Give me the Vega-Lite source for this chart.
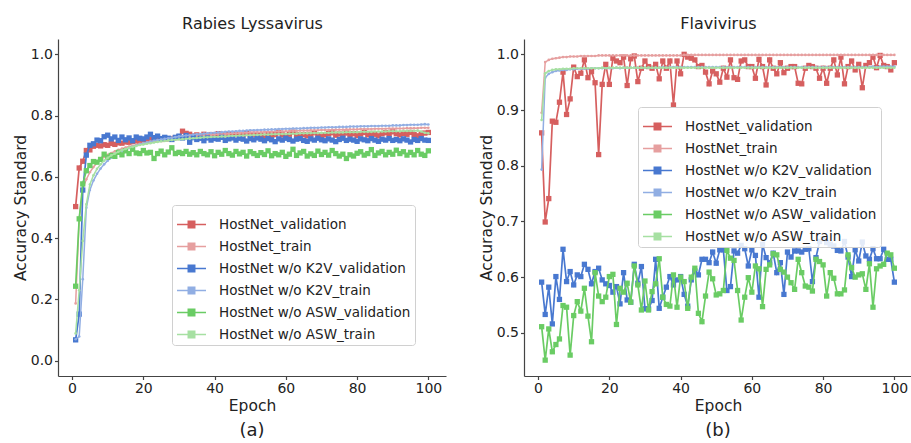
{
"$schema":"https://vega.github.io/schema/vega-lite/v6.json",
"padding":{"left":13,"top":15,"right":0,"bottom":0},
"spacing":33,
"datasets":{
"av":[{"e":1,"v":0.503},{"e":2,"v":0.629},{"e":3,"v":0.651},{"e":4,"v":0.686},{"e":5,"v":0.688},{"e":6,"v":0.700},{"e":7,"v":0.703},{"e":8,"v":0.701},{"e":9,"v":0.705},{"e":10,"v":0.703},
{"e":11,"v":0.709},{"e":12,"v":0.706},{"e":13,"v":0.711},{"e":14,"v":0.710},{"e":15,"v":0.714},{"e":16,"v":0.713},{"e":17,"v":0.716},{"e":18,"v":0.717},{"e":19,"v":0.715},{"e":20,"v":0.720},
{"e":21,"v":0.718},{"e":22,"v":0.722},{"e":23,"v":0.720},{"e":24,"v":0.724},{"e":25,"v":0.722},{"e":26,"v":0.726},{"e":27,"v":0.724},{"e":28,"v":0.725},{"e":29,"v":0.728},{"e":30,"v":0.731},
{"e":31,"v":0.749},{"e":32,"v":0.742},{"e":33,"v":0.739},{"e":34,"v":0.734},{"e":35,"v":0.737},{"e":36,"v":0.733},{"e":37,"v":0.739},{"e":38,"v":0.734},{"e":39,"v":0.738},{"e":40,"v":0.736},
{"e":41,"v":0.741},{"e":42,"v":0.734},{"e":43,"v":0.737},{"e":44,"v":0.740},{"e":45,"v":0.735},{"e":46,"v":0.738},{"e":47,"v":0.733},{"e":48,"v":0.739},{"e":49,"v":0.742},{"e":50,"v":0.736},
{"e":51,"v":0.739},{"e":52,"v":0.734},{"e":53,"v":0.737},{"e":54,"v":0.732},{"e":55,"v":0.740},{"e":56,"v":0.736},{"e":57,"v":0.738},{"e":58,"v":0.744},{"e":59,"v":0.737},{"e":60,"v":0.733},
{"e":61,"v":0.739},{"e":62,"v":0.746},{"e":63,"v":0.737},{"e":64,"v":0.732},{"e":65,"v":0.738},{"e":66,"v":0.734},{"e":67,"v":0.739},{"e":68,"v":0.744},{"e":69,"v":0.735},{"e":70,"v":0.731},
{"e":71,"v":0.737},{"e":72,"v":0.741},{"e":73,"v":0.744},{"e":74,"v":0.736},{"e":75,"v":0.740},{"e":76,"v":0.737},{"e":77,"v":0.743},{"e":78,"v":0.738},{"e":79,"v":0.741},{"e":80,"v":0.735},
{"e":81,"v":0.740},{"e":82,"v":0.745},{"e":83,"v":0.737},{"e":84,"v":0.742},{"e":85,"v":0.739},{"e":86,"v":0.734},{"e":87,"v":0.741},{"e":88,"v":0.744},{"e":89,"v":0.738},{"e":90,"v":0.747},
{"e":91,"v":0.741},{"e":92,"v":0.737},{"e":93,"v":0.742},{"e":94,"v":0.739},{"e":95,"v":0.745},{"e":96,"v":0.738},{"e":97,"v":0.734},{"e":98,"v":0.740},{"e":99,"v":0.743},{"e":100,"v":0.745}],
"at":[{"e":1,"v":0.187},{"e":2,"v":0.464},{"e":3,"v":0.560},{"e":4,"v":0.592},{"e":5,"v":0.615},{"e":6,"v":0.632},{"e":7,"v":0.645},{"e":8,"v":0.656},{"e":9,"v":0.665},{"e":10,"v":0.672},
{"e":11,"v":0.678},{"e":12,"v":0.683},{"e":13,"v":0.688},{"e":14,"v":0.692},{"e":15,"v":0.696},{"e":16,"v":0.699},{"e":17,"v":0.702},{"e":18,"v":0.705},{"e":19,"v":0.708},{"e":20,"v":0.710},
{"e":21,"v":0.712},{"e":22,"v":0.714},{"e":23,"v":0.716},{"e":24,"v":0.718},{"e":25,"v":0.720},{"e":26,"v":0.721},{"e":27,"v":0.723},{"e":28,"v":0.724},{"e":29,"v":0.726},{"e":30,"v":0.727},
{"e":31,"v":0.728},{"e":32,"v":0.729},{"e":33,"v":0.731},{"e":34,"v":0.732},{"e":35,"v":0.733},{"e":36,"v":0.734},{"e":37,"v":0.735},{"e":38,"v":0.736},{"e":39,"v":0.737},{"e":40,"v":0.738},
{"e":41,"v":0.739},{"e":42,"v":0.739},{"e":43,"v":0.740},{"e":44,"v":0.741},{"e":45,"v":0.742},{"e":46,"v":0.742},{"e":47,"v":0.743},{"e":48,"v":0.744},{"e":49,"v":0.744},{"e":50,"v":0.745},
{"e":51,"v":0.745},{"e":52,"v":0.746},{"e":53,"v":0.746},{"e":54,"v":0.747},{"e":55,"v":0.747},{"e":56,"v":0.748},{"e":57,"v":0.748},{"e":58,"v":0.748},{"e":59,"v":0.749},{"e":60,"v":0.749},
{"e":61,"v":0.750},{"e":62,"v":0.750},{"e":63,"v":0.750},{"e":64,"v":0.751},{"e":65,"v":0.751},{"e":66,"v":0.751},{"e":67,"v":0.752},{"e":68,"v":0.752},{"e":69,"v":0.752},{"e":70,"v":0.753},
{"e":71,"v":0.753},{"e":72,"v":0.753},{"e":73,"v":0.754},{"e":74,"v":0.754},{"e":75,"v":0.754},{"e":76,"v":0.754},{"e":77,"v":0.755},{"e":78,"v":0.755},{"e":79,"v":0.755},{"e":80,"v":0.755},
{"e":81,"v":0.756},{"e":82,"v":0.756},{"e":83,"v":0.756},{"e":84,"v":0.756},{"e":85,"v":0.757},{"e":86,"v":0.757},{"e":87,"v":0.757},{"e":88,"v":0.757},{"e":89,"v":0.758},{"e":90,"v":0.758},
{"e":91,"v":0.758},{"e":92,"v":0.758},{"e":93,"v":0.758},{"e":94,"v":0.759},{"e":95,"v":0.759},{"e":96,"v":0.759},{"e":97,"v":0.759},{"e":98,"v":0.760},{"e":99,"v":0.760},{"e":100,"v":0.760}],
"akv":[{"e":1,"v":0.068},{"e":2,"v":0.152},{"e":3,"v":0.557},{"e":4,"v":0.671},{"e":5,"v":0.703},{"e":6,"v":0.708},{"e":7,"v":0.720},{"e":8,"v":0.718},{"e":9,"v":0.731},{"e":10,"v":0.736},
{"e":11,"v":0.724},{"e":12,"v":0.730},{"e":13,"v":0.719},{"e":14,"v":0.730},{"e":15,"v":0.721},{"e":16,"v":0.727},{"e":17,"v":0.718},{"e":18,"v":0.730},{"e":19,"v":0.726},{"e":20,"v":0.724},
{"e":21,"v":0.730},{"e":22,"v":0.739},{"e":23,"v":0.728},{"e":24,"v":0.733},{"e":25,"v":0.725},{"e":26,"v":0.729},{"e":27,"v":0.726},{"e":28,"v":0.722},{"e":29,"v":0.729},{"e":30,"v":0.733},
{"e":31,"v":0.727},{"e":32,"v":0.735},{"e":33,"v":0.713},{"e":34,"v":0.728},{"e":35,"v":0.722},{"e":36,"v":0.726},{"e":37,"v":0.718},{"e":38,"v":0.727},{"e":39,"v":0.720},{"e":40,"v":0.725},
{"e":41,"v":0.723},{"e":42,"v":0.729},{"e":43,"v":0.719},{"e":44,"v":0.724},{"e":45,"v":0.727},{"e":46,"v":0.720},{"e":47,"v":0.726},{"e":48,"v":0.723},{"e":49,"v":0.717},{"e":50,"v":0.725},
{"e":51,"v":0.721},{"e":52,"v":0.727},{"e":53,"v":0.723},{"e":54,"v":0.718},{"e":55,"v":0.725},{"e":56,"v":0.721},{"e":57,"v":0.715},{"e":58,"v":0.724},{"e":59,"v":0.720},{"e":60,"v":0.726},
{"e":61,"v":0.722},{"e":62,"v":0.717},{"e":63,"v":0.723},{"e":64,"v":0.725},{"e":65,"v":0.719},{"e":66,"v":0.716},{"e":67,"v":0.724},{"e":68,"v":0.720},{"e":69,"v":0.726},{"e":70,"v":0.721},
{"e":71,"v":0.718},{"e":72,"v":0.724},{"e":73,"v":0.720},{"e":74,"v":0.715},{"e":75,"v":0.722},{"e":76,"v":0.726},{"e":77,"v":0.719},{"e":78,"v":0.723},{"e":79,"v":0.720},{"e":80,"v":0.716},
{"e":81,"v":0.724},{"e":82,"v":0.721},{"e":83,"v":0.718},{"e":84,"v":0.725},{"e":85,"v":0.720},{"e":86,"v":0.716},{"e":87,"v":0.723},{"e":88,"v":0.720},{"e":89,"v":0.725},{"e":90,"v":0.719},
{"e":91,"v":0.722},{"e":92,"v":0.718},{"e":93,"v":0.724},{"e":94,"v":0.720},{"e":95,"v":0.714},{"e":96,"v":0.722},{"e":97,"v":0.719},{"e":98,"v":0.725},{"e":99,"v":0.720},{"e":100,"v":0.719}],
"akt":[{"e":1,"v":0.070},{"e":2,"v":0.079},{"e":3,"v":0.266},{"e":4,"v":0.499},{"e":5,"v":0.557},{"e":6,"v":0.588},{"e":7,"v":0.610},{"e":8,"v":0.627},{"e":9,"v":0.641},{"e":10,"v":0.653},
{"e":11,"v":0.663},{"e":12,"v":0.671},{"e":13,"v":0.678},{"e":14,"v":0.684},{"e":15,"v":0.689},{"e":16,"v":0.694},{"e":17,"v":0.698},{"e":18,"v":0.702},{"e":19,"v":0.706},{"e":20,"v":0.709},
{"e":21,"v":0.712},{"e":22,"v":0.715},{"e":23,"v":0.718},{"e":24,"v":0.720},{"e":25,"v":0.722},{"e":26,"v":0.724},{"e":27,"v":0.726},{"e":28,"v":0.728},{"e":29,"v":0.730},{"e":30,"v":0.732},
{"e":31,"v":0.733},{"e":32,"v":0.735},{"e":33,"v":0.736},{"e":34,"v":0.738},{"e":35,"v":0.739},{"e":36,"v":0.740},{"e":37,"v":0.741},{"e":38,"v":0.742},{"e":39,"v":0.743},{"e":40,"v":0.744},
{"e":41,"v":0.745},{"e":42,"v":0.746},{"e":43,"v":0.747},{"e":44,"v":0.748},{"e":45,"v":0.748},{"e":46,"v":0.749},{"e":47,"v":0.750},{"e":48,"v":0.750},{"e":49,"v":0.751},{"e":50,"v":0.752},
{"e":51,"v":0.752},{"e":52,"v":0.753},{"e":53,"v":0.753},{"e":54,"v":0.754},{"e":55,"v":0.754},{"e":56,"v":0.755},{"e":57,"v":0.755},{"e":58,"v":0.756},{"e":59,"v":0.756},{"e":60,"v":0.757},
{"e":61,"v":0.757},{"e":62,"v":0.758},{"e":63,"v":0.758},{"e":64,"v":0.758},{"e":65,"v":0.759},{"e":66,"v":0.759},{"e":67,"v":0.760},{"e":68,"v":0.760},{"e":69,"v":0.760},{"e":70,"v":0.761},
{"e":71,"v":0.761},{"e":72,"v":0.762},{"e":73,"v":0.762},{"e":74,"v":0.762},{"e":75,"v":0.763},{"e":76,"v":0.763},{"e":77,"v":0.763},{"e":78,"v":0.764},{"e":79,"v":0.764},{"e":80,"v":0.764},
{"e":81,"v":0.765},{"e":82,"v":0.765},{"e":83,"v":0.765},{"e":84,"v":0.766},{"e":85,"v":0.766},{"e":86,"v":0.766},{"e":87,"v":0.767},{"e":88,"v":0.767},{"e":89,"v":0.767},{"e":90,"v":0.768},
{"e":91,"v":0.768},{"e":92,"v":0.768},{"e":93,"v":0.769},{"e":94,"v":0.769},{"e":95,"v":0.770},{"e":96,"v":0.770},{"e":97,"v":0.770},{"e":98,"v":0.771},{"e":99,"v":0.772},{"e":100,"v":0.771}],
"aav":[{"e":1,"v":0.243},{"e":2,"v":0.463},{"e":3,"v":0.577},{"e":4,"v":0.620},{"e":5,"v":0.637},{"e":6,"v":0.650},{"e":7,"v":0.648},{"e":8,"v":0.657},{"e":9,"v":0.674},{"e":10,"v":0.664},
{"e":11,"v":0.670},{"e":12,"v":0.667},{"e":13,"v":0.680},{"e":14,"v":0.672},{"e":15,"v":0.685},{"e":16,"v":0.676},{"e":17,"v":0.690},{"e":18,"v":0.678},{"e":19,"v":0.676},{"e":20,"v":0.686},
{"e":21,"v":0.678},{"e":22,"v":0.680},{"e":23,"v":0.660},{"e":24,"v":0.676},{"e":25,"v":0.684},{"e":26,"v":0.672},{"e":27,"v":0.681},{"e":28,"v":0.695},{"e":29,"v":0.676},{"e":30,"v":0.680},
{"e":31,"v":0.676},{"e":32,"v":0.683},{"e":33,"v":0.674},{"e":34,"v":0.679},{"e":35,"v":0.672},{"e":36,"v":0.683},{"e":37,"v":0.676},{"e":38,"v":0.672},{"e":39,"v":0.682},{"e":40,"v":0.669},
{"e":41,"v":0.680},{"e":42,"v":0.674},{"e":43,"v":0.686},{"e":44,"v":0.676},{"e":45,"v":0.671},{"e":46,"v":0.683},{"e":47,"v":0.675},{"e":48,"v":0.680},{"e":49,"v":0.668},{"e":50,"v":0.682},
{"e":51,"v":0.676},{"e":52,"v":0.670},{"e":53,"v":0.679},{"e":54,"v":0.673},{"e":55,"v":0.685},{"e":56,"v":0.669},{"e":57,"v":0.676},{"e":58,"v":0.672},{"e":59,"v":0.680},{"e":60,"v":0.667},
{"e":61,"v":0.674},{"e":62,"v":0.690},{"e":63,"v":0.670},{"e":64,"v":0.678},{"e":65,"v":0.683},{"e":66,"v":0.668},{"e":67,"v":0.675},{"e":68,"v":0.670},{"e":69,"v":0.684},{"e":70,"v":0.673},
{"e":71,"v":0.680},{"e":72,"v":0.671},{"e":73,"v":0.686},{"e":74,"v":0.676},{"e":75,"v":0.668},{"e":76,"v":0.674},{"e":77,"v":0.660},{"e":78,"v":0.672},{"e":79,"v":0.668},{"e":80,"v":0.677},
{"e":81,"v":0.682},{"e":82,"v":0.671},{"e":83,"v":0.676},{"e":84,"v":0.689},{"e":85,"v":0.670},{"e":86,"v":0.678},{"e":87,"v":0.683},{"e":88,"v":0.672},{"e":89,"v":0.680},{"e":90,"v":0.674},
{"e":91,"v":0.687},{"e":92,"v":0.676},{"e":93,"v":0.682},{"e":94,"v":0.671},{"e":95,"v":0.680},{"e":96,"v":0.672},{"e":97,"v":0.686},{"e":98,"v":0.674},{"e":99,"v":0.670},{"e":100,"v":0.685}],
"aat":[{"e":1,"v":0.089},{"e":2,"v":0.230},{"e":3,"v":0.391},{"e":4,"v":0.510},{"e":5,"v":0.575},{"e":6,"v":0.605},{"e":7,"v":0.626},{"e":8,"v":0.641},{"e":9,"v":0.653},{"e":10,"v":0.662},
{"e":11,"v":0.670},{"e":12,"v":0.676},{"e":13,"v":0.682},{"e":14,"v":0.687},{"e":15,"v":0.691},{"e":16,"v":0.695},{"e":17,"v":0.698},{"e":18,"v":0.701},{"e":19,"v":0.704},{"e":20,"v":0.706},
{"e":21,"v":0.708},{"e":22,"v":0.710},{"e":23,"v":0.712},{"e":24,"v":0.714},{"e":25,"v":0.716},{"e":26,"v":0.717},{"e":27,"v":0.719},{"e":28,"v":0.720},{"e":29,"v":0.721},{"e":30,"v":0.722},
{"e":31,"v":0.723},{"e":32,"v":0.724},{"e":33,"v":0.725},{"e":34,"v":0.726},{"e":35,"v":0.727},{"e":36,"v":0.728},{"e":37,"v":0.729},{"e":38,"v":0.729},{"e":39,"v":0.730},{"e":40,"v":0.731},
{"e":41,"v":0.731},{"e":42,"v":0.732},{"e":43,"v":0.732},{"e":44,"v":0.733},{"e":45,"v":0.734},{"e":46,"v":0.734},{"e":47,"v":0.735},{"e":48,"v":0.735},{"e":49,"v":0.736},{"e":50,"v":0.736},
{"e":51,"v":0.737},{"e":52,"v":0.737},{"e":53,"v":0.738},{"e":54,"v":0.738},{"e":55,"v":0.738},{"e":56,"v":0.739},{"e":57,"v":0.739},{"e":58,"v":0.740},{"e":59,"v":0.740},{"e":60,"v":0.740},
{"e":61,"v":0.741},{"e":62,"v":0.741},{"e":63,"v":0.741},{"e":64,"v":0.742},{"e":65,"v":0.742},{"e":66,"v":0.742},{"e":67,"v":0.743},{"e":68,"v":0.743},{"e":69,"v":0.743},{"e":70,"v":0.744},
{"e":71,"v":0.744},{"e":72,"v":0.744},{"e":73,"v":0.745},{"e":74,"v":0.745},{"e":75,"v":0.745},{"e":76,"v":0.745},{"e":77,"v":0.746},{"e":78,"v":0.746},{"e":79,"v":0.746},{"e":80,"v":0.746},
{"e":81,"v":0.747},{"e":82,"v":0.747},{"e":83,"v":0.747},{"e":84,"v":0.747},{"e":85,"v":0.748},{"e":86,"v":0.748},{"e":87,"v":0.748},{"e":88,"v":0.748},{"e":89,"v":0.749},{"e":90,"v":0.749},
{"e":91,"v":0.749},{"e":92,"v":0.749},{"e":93,"v":0.750},{"e":94,"v":0.750},{"e":95,"v":0.750},{"e":96,"v":0.750},{"e":97,"v":0.751},{"e":98,"v":0.748},{"e":99,"v":0.744},{"e":100,"v":0.742}],
"bv":[{"e":1,"v":0.859},{"e":2,"v":0.699},{"e":3,"v":0.741},{"e":4,"v":0.880},{"e":5,"v":0.878},{"e":6,"v":0.914},{"e":7,"v":0.968},{"e":8,"v":0.892},{"e":9,"v":0.920},{"e":10,"v":0.977},
{"e":11,"v":0.960},{"e":12,"v":0.966},{"e":13,"v":0.990},{"e":14,"v":0.958},{"e":15,"v":0.969},{"e":16,"v":0.949},{"e":17,"v":0.820},{"e":18,"v":0.946},{"e":19,"v":0.982},{"e":20,"v":0.946},
{"e":21,"v":0.993},{"e":22,"v":0.988},{"e":23,"v":0.985},{"e":24,"v":0.995},{"e":25,"v":0.944},{"e":26,"v":0.992},{"e":27,"v":0.997},{"e":28,"v":0.951},{"e":29,"v":0.975},{"e":30,"v":0.988},
{"e":31,"v":0.978},{"e":32,"v":0.975},{"e":33,"v":0.982},{"e":34,"v":0.956},{"e":35,"v":0.988},{"e":36,"v":0.975},{"e":37,"v":0.988},{"e":38,"v":0.909},{"e":39,"v":0.988},{"e":40,"v":0.965},
{"e":41,"v":1.000},{"e":42,"v":0.995},{"e":43,"v":0.993},{"e":44,"v":0.990},{"e":45,"v":0.978},{"e":46,"v":0.980},{"e":47,"v":0.968},{"e":48,"v":0.947},{"e":49,"v":0.970},{"e":50,"v":0.965},
{"e":51,"v":0.950},{"e":52,"v":0.975},{"e":53,"v":0.959},{"e":54,"v":0.990},{"e":55,"v":0.958},{"e":56,"v":0.955},{"e":57,"v":0.988},{"e":58,"v":0.990},{"e":59,"v":0.978},{"e":60,"v":0.978},
{"e":61,"v":0.957},{"e":62,"v":0.991},{"e":63,"v":0.978},{"e":64,"v":0.945},{"e":65,"v":0.990},{"e":66,"v":0.975},{"e":67,"v":0.965},{"e":68,"v":0.985},{"e":69,"v":0.967},{"e":70,"v":0.975},
{"e":71,"v":0.978},{"e":72,"v":0.978},{"e":73,"v":0.948},{"e":74,"v":0.947},{"e":75,"v":0.975},{"e":76,"v":0.980},{"e":77,"v":0.978},{"e":78,"v":0.975},{"e":79,"v":0.957},{"e":80,"v":0.975},
{"e":81,"v":0.948},{"e":82,"v":0.975},{"e":83,"v":0.990},{"e":84,"v":0.963},{"e":85,"v":0.995},{"e":86,"v":0.947},{"e":87,"v":0.978},{"e":88,"v":0.988},{"e":89,"v":0.972},{"e":90,"v":0.982},
{"e":91,"v":0.940},{"e":92,"v":0.980},{"e":93,"v":0.985},{"e":94,"v":0.995},{"e":95,"v":0.976},{"e":96,"v":0.998},{"e":97,"v":0.980},{"e":98,"v":0.978},{"e":99,"v":0.972},{"e":100,"v":0.985}],
"bt":[{"e":1,"v":0.895},{"e":2,"v":0.986},{"e":3,"v":0.990},{"e":4,"v":0.992},{"e":5,"v":0.993},{"e":6,"v":0.994},{"e":7,"v":0.995},{"e":8,"v":0.995},{"e":9,"v":0.996},{"e":10,"v":0.996},
{"e":11,"v":0.996},{"e":12,"v":0.997},{"e":13,"v":0.997},{"e":14,"v":0.997},{"e":15,"v":0.997},{"e":16,"v":0.997},{"e":17,"v":0.998},{"e":18,"v":0.998},{"e":19,"v":0.998},{"e":20,"v":0.998},
{"e":21,"v":0.998},{"e":22,"v":0.998},{"e":23,"v":0.998},{"e":24,"v":0.998},{"e":25,"v":0.998},{"e":26,"v":0.998},{"e":27,"v":0.998},{"e":28,"v":0.998},{"e":29,"v":0.998},{"e":30,"v":0.998},
{"e":31,"v":0.998},{"e":32,"v":0.998},{"e":33,"v":0.998},{"e":34,"v":0.998},{"e":35,"v":0.998},{"e":36,"v":0.998},{"e":37,"v":0.998},{"e":38,"v":0.998},{"e":39,"v":0.998},{"e":40,"v":0.998},
{"e":41,"v":0.999},{"e":42,"v":0.999},{"e":43,"v":0.999},{"e":44,"v":0.999},{"e":45,"v":0.999},{"e":46,"v":0.999},{"e":47,"v":0.999},{"e":48,"v":0.999},{"e":49,"v":0.999},{"e":50,"v":0.999},
{"e":51,"v":0.999},{"e":52,"v":0.999},{"e":53,"v":0.999},{"e":54,"v":0.999},{"e":55,"v":0.999},{"e":56,"v":0.999},{"e":57,"v":0.999},{"e":58,"v":0.999},{"e":59,"v":0.999},{"e":60,"v":0.999},
{"e":61,"v":0.999},{"e":62,"v":0.999},{"e":63,"v":0.999},{"e":64,"v":0.999},{"e":65,"v":0.999},{"e":66,"v":0.999},{"e":67,"v":0.999},{"e":68,"v":0.999},{"e":69,"v":0.999},{"e":70,"v":0.999},
{"e":71,"v":0.999},{"e":72,"v":0.999},{"e":73,"v":0.999},{"e":74,"v":0.999},{"e":75,"v":0.999},{"e":76,"v":0.999},{"e":77,"v":0.999},{"e":78,"v":0.999},{"e":79,"v":0.999},{"e":80,"v":0.999},
{"e":81,"v":0.999},{"e":82,"v":0.999},{"e":83,"v":0.999},{"e":84,"v":0.999},{"e":85,"v":0.999},{"e":86,"v":0.999},{"e":87,"v":0.999},{"e":88,"v":0.999},{"e":89,"v":0.999},{"e":90,"v":0.999},
{"e":91,"v":0.999},{"e":92,"v":0.999},{"e":93,"v":0.999},{"e":94,"v":0.999},{"e":95,"v":0.999},{"e":96,"v":0.999},{"e":97,"v":0.999},{"e":98,"v":0.999},{"e":99,"v":0.999},{"e":100,"v":0.999}],
"bkv":[{"e":1,"v":0.591},{"e":2,"v":0.533},{"e":3,"v":0.582},{"e":4,"v":0.516},{"e":5,"v":0.601},{"e":6,"v":0.560},{"e":7,"v":0.650},{"e":8,"v":0.592},{"e":9,"v":0.610},{"e":10,"v":0.586},
{"e":11,"v":0.604},{"e":12,"v":0.601},{"e":13,"v":0.623},{"e":14,"v":0.614},{"e":15,"v":0.588},{"e":16,"v":0.610},{"e":17,"v":0.616},{"e":18,"v":0.595},{"e":19,"v":0.588},{"e":20,"v":0.585},
{"e":21,"v":0.573},{"e":22,"v":0.583},{"e":23,"v":0.552},{"e":24,"v":0.608},{"e":25,"v":0.559},{"e":26,"v":0.555},{"e":27,"v":0.623},{"e":28,"v":0.589},{"e":29,"v":0.619},{"e":30,"v":0.543},
{"e":31,"v":0.543},{"e":32,"v":0.558},{"e":33,"v":0.632},{"e":34,"v":0.544},{"e":35,"v":0.564},{"e":36,"v":0.582},{"e":37,"v":0.601},{"e":38,"v":0.586},{"e":39,"v":0.595},{"e":40,"v":0.601},
{"e":41,"v":0.569},{"e":42,"v":0.548},{"e":43,"v":0.595},{"e":44,"v":0.611},{"e":45,"v":0.604},{"e":46,"v":0.632},{"e":47,"v":0.632},{"e":48,"v":0.626},{"e":49,"v":0.645},{"e":50,"v":0.625},
{"e":51,"v":0.649},{"e":52,"v":0.649},{"e":53,"v":0.576},{"e":54,"v":0.583},{"e":55,"v":0.647},{"e":56,"v":0.643},{"e":57,"v":0.657},{"e":58,"v":0.651},{"e":59,"v":0.620},{"e":60,"v":0.649},
{"e":61,"v":0.639},{"e":62,"v":0.564},{"e":63,"v":0.659},{"e":64,"v":0.635},{"e":65,"v":0.626},{"e":66,"v":0.643},{"e":67,"v":0.608},{"e":68,"v":0.626},{"e":69,"v":0.569},{"e":70,"v":0.645},
{"e":71,"v":0.636},{"e":72,"v":0.647},{"e":73,"v":0.647},{"e":74,"v":0.645},{"e":75,"v":0.650},{"e":76,"v":0.651},{"e":77,"v":0.592},{"e":78,"v":0.635},{"e":79,"v":0.664},{"e":80,"v":0.669},
{"e":81,"v":0.662},{"e":82,"v":0.659},{"e":83,"v":0.656},{"e":84,"v":0.648},{"e":85,"v":0.647},{"e":86,"v":0.664},{"e":87,"v":0.636},{"e":88,"v":0.601},{"e":89,"v":0.649},{"e":90,"v":0.629},
{"e":91,"v":0.663},{"e":92,"v":0.638},{"e":93,"v":0.632},{"e":94,"v":0.651},{"e":95,"v":0.633},{"e":96,"v":0.633},{"e":97,"v":0.650},{"e":98,"v":0.632},{"e":99,"v":0.632},{"e":100,"v":0.591}],
"bkt":[{"e":1,"v":0.793},{"e":2,"v":0.958},{"e":3,"v":0.965},{"e":4,"v":0.968},{"e":5,"v":0.970},{"e":6,"v":0.971},{"e":7,"v":0.972},{"e":8,"v":0.972},{"e":9,"v":0.973},{"e":10,"v":0.973},
{"e":11,"v":0.974},{"e":12,"v":0.974},{"e":13,"v":0.974},{"e":14,"v":0.974},{"e":15,"v":0.975},{"e":16,"v":0.975},{"e":17,"v":0.975},{"e":18,"v":0.975},{"e":19,"v":0.975},{"e":20,"v":0.975},
{"e":21,"v":0.975},{"e":22,"v":0.976},{"e":23,"v":0.975},{"e":24,"v":0.976},{"e":25,"v":0.976},{"e":26,"v":0.976},{"e":27,"v":0.976},{"e":28,"v":0.976},{"e":29,"v":0.976},{"e":30,"v":0.976},
{"e":31,"v":0.976},{"e":32,"v":0.976},{"e":33,"v":0.976},{"e":34,"v":0.976},{"e":35,"v":0.977},{"e":36,"v":0.976},{"e":37,"v":0.977},{"e":38,"v":0.977},{"e":39,"v":0.977},{"e":40,"v":0.977},
{"e":41,"v":0.977},{"e":42,"v":0.977},{"e":43,"v":0.977},{"e":44,"v":0.977},{"e":45,"v":0.977},{"e":46,"v":0.977},{"e":47,"v":0.977},{"e":48,"v":0.977},{"e":49,"v":0.977},{"e":50,"v":0.977},
{"e":51,"v":0.977},{"e":52,"v":0.977},{"e":53,"v":0.977},{"e":54,"v":0.977},{"e":55,"v":0.977},{"e":56,"v":0.977},{"e":57,"v":0.977},{"e":58,"v":0.977},{"e":59,"v":0.977},{"e":60,"v":0.977},
{"e":61,"v":0.977},{"e":62,"v":0.977},{"e":63,"v":0.977},{"e":64,"v":0.977},{"e":65,"v":0.977},{"e":66,"v":0.977},{"e":67,"v":0.977},{"e":68,"v":0.977},{"e":69,"v":0.977},{"e":70,"v":0.977},
{"e":71,"v":0.977},{"e":72,"v":0.977},{"e":73,"v":0.977},{"e":74,"v":0.977},{"e":75,"v":0.977},{"e":76,"v":0.977},{"e":77,"v":0.977},{"e":78,"v":0.977},{"e":79,"v":0.977},{"e":80,"v":0.977},
{"e":81,"v":0.977},{"e":82,"v":0.977},{"e":83,"v":0.977},{"e":84,"v":0.977},{"e":85,"v":0.977},{"e":86,"v":0.977},{"e":87,"v":0.977},{"e":88,"v":0.977},{"e":89,"v":0.977},{"e":90,"v":0.977},
{"e":91,"v":0.977},{"e":92,"v":0.977},{"e":93,"v":0.977},{"e":94,"v":0.978},{"e":95,"v":0.977},{"e":96,"v":0.978},{"e":97,"v":0.978},{"e":98,"v":0.978},{"e":99,"v":0.978},{"e":100,"v":0.978}],
"bav":[{"e":1,"v":0.511},{"e":2,"v":0.451},{"e":3,"v":0.507},{"e":4,"v":0.466},{"e":5,"v":0.479},{"e":6,"v":0.489},{"e":7,"v":0.549},{"e":8,"v":0.546},{"e":9,"v":0.460},{"e":10,"v":0.531},
{"e":11,"v":0.556},{"e":12,"v":0.539},{"e":13,"v":0.580},{"e":14,"v":0.530},{"e":15,"v":0.484},{"e":16,"v":0.608},{"e":17,"v":0.566},{"e":18,"v":0.556},{"e":19,"v":0.564},{"e":20,"v":0.601},
{"e":21,"v":0.605},{"e":22,"v":0.515},{"e":23,"v":0.580},{"e":24,"v":0.573},{"e":25,"v":0.589},{"e":26,"v":0.555},{"e":27,"v":0.620},{"e":28,"v":0.586},{"e":29,"v":0.541},{"e":30,"v":0.593},
{"e":31,"v":0.541},{"e":32,"v":0.574},{"e":33,"v":0.588},{"e":34,"v":0.633},{"e":35,"v":0.564},{"e":36,"v":0.551},{"e":37,"v":0.548},{"e":38,"v":0.604},{"e":39,"v":0.546},{"e":40,"v":0.600},
{"e":41,"v":0.592},{"e":42,"v":0.544},{"e":43,"v":0.600},{"e":44,"v":0.616},{"e":45,"v":0.535},{"e":46,"v":0.520},{"e":47,"v":0.566},{"e":48,"v":0.609},{"e":49,"v":0.597},{"e":50,"v":0.568},
{"e":51,"v":0.570},{"e":52,"v":0.576},{"e":53,"v":0.648},{"e":54,"v":0.634},{"e":55,"v":0.630},{"e":56,"v":0.576},{"e":57,"v":0.523},{"e":58,"v":0.564},{"e":59,"v":0.599},{"e":60,"v":0.573},
{"e":61,"v":0.620},{"e":62,"v":0.615},{"e":63,"v":0.547},{"e":64,"v":0.614},{"e":65,"v":0.622},{"e":66,"v":0.642},{"e":67,"v":0.640},{"e":68,"v":0.614},{"e":69,"v":0.609},{"e":70,"v":0.600},
{"e":71,"v":0.590},{"e":72,"v":0.578},{"e":73,"v":0.632},{"e":74,"v":0.608},{"e":75,"v":0.584},{"e":76,"v":0.582},{"e":77,"v":0.575},{"e":78,"v":0.632},{"e":79,"v":0.628},{"e":80,"v":0.622},
{"e":81,"v":0.566},{"e":82,"v":0.608},{"e":83,"v":0.598},{"e":84,"v":0.570},{"e":85,"v":0.570},{"e":86,"v":0.577},{"e":87,"v":0.640},{"e":88,"v":0.617},{"e":89,"v":0.600},{"e":90,"v":0.604},
{"e":91,"v":0.606},{"e":92,"v":0.578},{"e":93,"v":0.624},{"e":94,"v":0.546},{"e":95,"v":0.615},{"e":96,"v":0.620},{"e":97,"v":0.623},{"e":98,"v":0.643},{"e":99,"v":0.640},{"e":100,"v":0.616}],
"bat":[{"e":1,"v":0.882},{"e":2,"v":0.966},{"e":3,"v":0.970},{"e":4,"v":0.972},{"e":5,"v":0.973},{"e":6,"v":0.973},{"e":7,"v":0.974},{"e":8,"v":0.974},{"e":9,"v":0.974},{"e":10,"v":0.975},
{"e":11,"v":0.975},{"e":12,"v":0.975},{"e":13,"v":0.975},{"e":14,"v":0.975},{"e":15,"v":0.975},{"e":16,"v":0.975},{"e":17,"v":0.975},{"e":18,"v":0.976},{"e":19,"v":0.975},{"e":20,"v":0.976},
{"e":21,"v":0.976},{"e":22,"v":0.976},{"e":23,"v":0.976},{"e":24,"v":0.976},{"e":25,"v":0.976},{"e":26,"v":0.976},{"e":27,"v":0.976},{"e":28,"v":0.976},{"e":29,"v":0.976},{"e":30,"v":0.976},
{"e":31,"v":0.976},{"e":32,"v":0.976},{"e":33,"v":0.976},{"e":34,"v":0.976},{"e":35,"v":0.976},{"e":36,"v":0.976},{"e":37,"v":0.976},{"e":38,"v":0.976},{"e":39,"v":0.976},{"e":40,"v":0.976},
{"e":41,"v":0.976},{"e":42,"v":0.976},{"e":43,"v":0.976},{"e":44,"v":0.976},{"e":45,"v":0.976},{"e":46,"v":0.976},{"e":47,"v":0.976},{"e":48,"v":0.976},{"e":49,"v":0.976},{"e":50,"v":0.976},
{"e":51,"v":0.976},{"e":52,"v":0.976},{"e":53,"v":0.976},{"e":54,"v":0.976},{"e":55,"v":0.976},{"e":56,"v":0.976},{"e":57,"v":0.976},{"e":58,"v":0.976},{"e":59,"v":0.976},{"e":60,"v":0.976},
{"e":61,"v":0.976},{"e":62,"v":0.976},{"e":63,"v":0.976},{"e":64,"v":0.976},{"e":65,"v":0.976},{"e":66,"v":0.976},{"e":67,"v":0.976},{"e":68,"v":0.976},{"e":69,"v":0.976},{"e":70,"v":0.976},
{"e":71,"v":0.976},{"e":72,"v":0.976},{"e":73,"v":0.976},{"e":74,"v":0.976},{"e":75,"v":0.976},{"e":76,"v":0.976},{"e":77,"v":0.976},{"e":78,"v":0.976},{"e":79,"v":0.976},{"e":80,"v":0.976},
{"e":81,"v":0.976},{"e":82,"v":0.976},{"e":83,"v":0.976},{"e":84,"v":0.976},{"e":85,"v":0.976},{"e":86,"v":0.976},{"e":87,"v":0.976},{"e":88,"v":0.976},{"e":89,"v":0.976},{"e":90,"v":0.976},
{"e":91,"v":0.976},{"e":92,"v":0.976},{"e":93,"v":0.976},{"e":94,"v":0.976},{"e":95,"v":0.976},{"e":96,"v":0.976},{"e":97,"v":0.976},{"e":98,"v":0.976},{"e":99,"v":0.976},{"e":100,"v":0.976}]
},
"hconcat":[
{
"width":388,"height":337,
"title":{"text":"(a)","orient":"bottom","frame":"group","anchor":"middle","fontSize":18,"offset":8},
"resolve":{"axis":{"x":"independent"}},
"encoding":{
"x":{"field":"e","type":"quantitative","scale":{"domain":[-3.95,104.95],"nice":false,"zero":false},"axis":null},
"y":{"field":"v","type":"quantitative","scale":{"domain":[-0.05,1.05],"nice":false,"zero":false},"axis":{"values":[0,0.2,0.4,0.6,0.8,1],"format":".1f","title":"Accuracy Standard"}}
},
"layer":[
{"data":{"name":"av"},"mark":{"type":"line","strokeWidth":1.7,"point":{"shape":"square","size":28}},
"encoding":{"x":{"field":"e","type":"quantitative","scale":{"domain":[-3.95,104.95],"nice":false,"zero":false},"axis":{"values":[0,20,40,60,80,100],"title":"Epoch","titlePadding":3}},
"color":{"datum":"HostNet_validation","type":"nominal","scale":{"domain":["HostNet_validation","HostNet_train","HostNet w/o K2V_validation","HostNet w/o K2V_train","HostNet w/o ASW_validation","HostNet w/o ASW_train"],"range":["#d65f5f","#e69f9f","#4878d0","#91aee3","#6acc64","#a6e0a2"]},
"legend":{"title":null,"orient":"none","legendX":114,"legendY":166}}}},
{"data":{"name":"at"},"mark":{"type":"line","strokeWidth":1.5,"point":{"shape":"circle","size":7}},
"encoding":{"x":{"field":"e","type":"quantitative","scale":{"domain":[-3.95,104.95],"nice":false,"zero":false},"axis":{"orient":"top","title":"Rabies Lyssavirus","labels":false,"ticks":false,"domain":false,"titleFontSize":16,"titlePadding":8}},
"color":{"datum":"HostNet_train","type":"nominal"}}},
{"data":{"name":"akv"},"mark":{"type":"line","strokeWidth":1.7,"point":{"shape":"square","size":28}},"encoding":{"color":{"datum":"HostNet w/o K2V_validation","type":"nominal"}}},
{"data":{"name":"akt"},"mark":{"type":"line","strokeWidth":1.5,"point":{"shape":"circle","size":7}},"encoding":{"color":{"datum":"HostNet w/o K2V_train","type":"nominal"}}},
{"data":{"name":"aav"},"mark":{"type":"line","strokeWidth":1.7,"point":{"shape":"square","size":28}},"encoding":{"color":{"datum":"HostNet w/o ASW_validation","type":"nominal"}}},
{"data":{"name":"aat"},"mark":{"type":"line","strokeWidth":1.5,"point":{"shape":"circle","size":7}},"encoding":{"color":{"datum":"HostNet w/o ASW_train","type":"nominal"}}}
]
},
{
"width":388,"height":337,
"title":{"text":"(b)","orient":"bottom","frame":"group","anchor":"middle","fontSize":18,"offset":8},
"resolve":{"axis":{"x":"independent"}},
"encoding":{
"x":{"field":"e","type":"quantitative","scale":{"domain":[-3.95,104.95],"nice":false,"zero":false},"axis":null},
"y":{"field":"v","type":"quantitative","scale":{"domain":[0.4225,1.0275],"nice":false,"zero":false},"axis":{"values":[0.5,0.6,0.7,0.8,0.9,1],"format":".1f","title":"Accuracy Standard"}}
},
"layer":[
{"data":{"name":"bv"},"mark":{"type":"line","strokeWidth":1.7,"point":{"shape":"square","size":28}},
"encoding":{"x":{"field":"e","type":"quantitative","scale":{"domain":[-3.95,104.95],"nice":false,"zero":false},"axis":{"values":[0,20,40,60,80,100],"title":"Epoch","titlePadding":3}},
"color":{"datum":"HostNet_validation","type":"nominal","scale":{"domain":["HostNet_validation","HostNet_train","HostNet w/o K2V_validation","HostNet w/o K2V_train","HostNet w/o ASW_validation","HostNet w/o ASW_train"],"range":["#d65f5f","#e69f9f","#4878d0","#91aee3","#6acc64","#a6e0a2"]},
"legend":{"title":null,"orient":"none","legendX":114,"legendY":68}}}},
{"data":{"name":"bt"},"mark":{"type":"line","strokeWidth":1.5,"point":{"shape":"circle","size":7}},
"encoding":{"x":{"field":"e","type":"quantitative","scale":{"domain":[-3.95,104.95],"nice":false,"zero":false},"axis":{"orient":"top","title":"Flavivirus","labels":false,"ticks":false,"domain":false,"titleFontSize":16,"titlePadding":8}},
"color":{"datum":"HostNet_train","type":"nominal"}}},
{"data":{"name":"bkv"},"mark":{"type":"line","strokeWidth":1.7,"point":{"shape":"square","size":28}},"encoding":{"color":{"datum":"HostNet w/o K2V_validation","type":"nominal"}}},
{"data":{"name":"bkt"},"mark":{"type":"line","strokeWidth":1.5,"point":{"shape":"circle","size":7}},"encoding":{"color":{"datum":"HostNet w/o K2V_train","type":"nominal"}}},
{"data":{"name":"bav"},"mark":{"type":"line","strokeWidth":1.7,"point":{"shape":"square","size":28}},"encoding":{"color":{"datum":"HostNet w/o ASW_validation","type":"nominal"}}},
{"data":{"name":"bat"},"mark":{"type":"line","strokeWidth":1.5,"point":{"shape":"circle","size":7}},"encoding":{"color":{"datum":"HostNet w/o ASW_train","type":"nominal"}}}
]
}
],
"resolve":{"scale":{"color":"independent","x":"independent","y":"independent"},"legend":{"color":"independent"}},
"config":{
"font":"DejaVu Sans",
"view":{"stroke":null},
"axis":{"grid":false,"domainColor":"#444","domainWidth":1.2,"tickColor":"#444","tickWidth":1.2,"tickSize":3.5,"labelFontSize":14,"labelColor":"#222","labelPadding":2,"titleFontSize":15.5,"titleFontWeight":"normal","titleColor":"#222","titlePadding":2,"labelFont":"DejaVu Sans","titleFont":"DejaVu Sans"},
"title":{"font":"DejaVu Sans","fontWeight":"normal","color":"#222"},
"legend":{"padding":4,"fillColor":"rgba(255,255,255,0.85)","strokeColor":"#d0d0d0","cornerRadius":3,"labelFontSize":13.5,"labelColor":"#222","labelFont":"DejaVu Sans","labelLimit":400,"symbolType":"M-1,0H1M-0.22,-0.22H0.22V0.22H-0.22Z","symbolSize":841,"symbolStrokeWidth":1.6,"rowPadding":-2,"labelOffset":12}
}
}
